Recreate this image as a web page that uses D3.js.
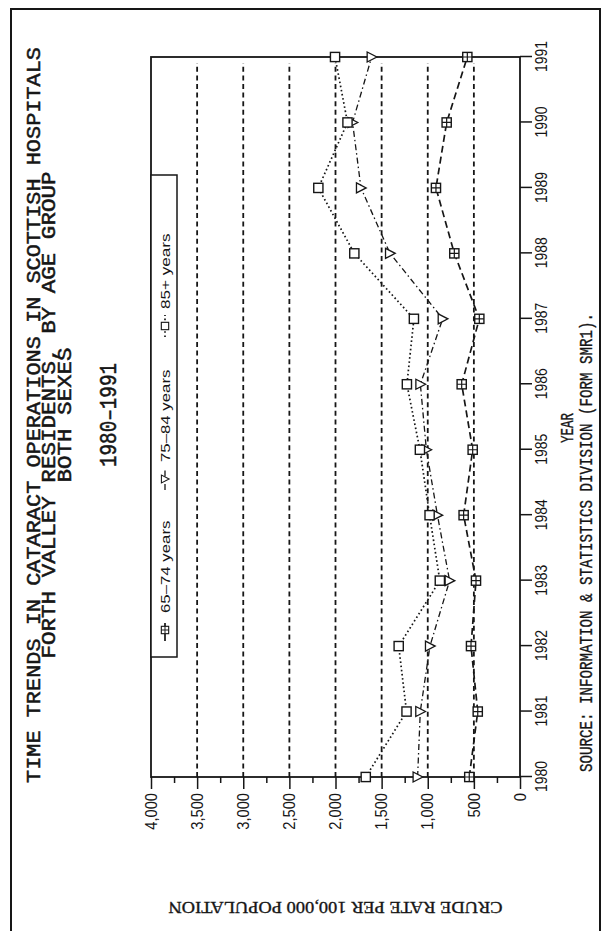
<!DOCTYPE html>
<html>
<head>
<meta charset="utf-8">
<script src="https://cdn.jsdelivr.net/npm/d3@7"></script>
<style>
  body { margin: 0; background: #fff; }
  svg { display: block; }
</style>
</head>
<body>
<svg id="chart" width="613" height="931"></svg>
<script>
// Crude cataract operation rates per 100,000, Forth Valley residents
const years = [1980, 1981, 1982, 1983, 1984, 1985, 1986, 1987, 1988, 1989, 1990, 1991];
const age65to74 = [550, 458, 531, 477, 611, 513, 632, 441, 712, 911, 795, 571];
const age75to84 = [1110, 1081, 976, 763, 895, 1015, 1080, 838, 1409, 1724, 1815, 1608];
const age85plus = [1672, 1230, 1315, 869, 980, 1085, 1226, 1150, 1796, 2186, 1870, 2005];
const seriesNames = ["65\u201374 years", "75\u201384 years", "85+ years"];
const valueTicks = [0, 500, 1000, 1500, 2000, 2500, 3000, 3500, 4000];
const minorTicks = [250, 750, 1250, 1750, 2250, 2750, 3250, 3750];
const gridValues = [500, 1000, 1500, 2000, 2500, 3000, 3500];
const titleLines = [
  "TIME TRENDS IN CATARACT OPERATIONS IN SCOTTISH HOSPITALS",
  "FORTH VALLEY RESIDENTS, BY AGE GROUP",
  "BOTH SEXES"
];
const subtitle = "1980\u20131991";
const xTitle = "YEAR";
const yTitle = "CRUDE RATE PER 100,000 POPULATION";
const sourceNote = "SOURCE: INFORMATION & STATISTICS DIVISION (FORM SMR1).";

const ink = "#161616";
const mono = "'Liberation Mono', 'DejaVu Sans Mono', monospace";
const serif = "'Liberation Serif', 'DejaVu Serif', serif";
const sans = "'Liberation Sans', 'DejaVu Sans', sans-serif";

const svg = d3.select("#chart");
svg.append("rect").attr("width", 613).attr("height", 931).attr("fill", "#fff");

// page frame
svg.append("rect")
  .attr("x", 11).attr("y", 9).attr("width", 589).attr("height", 940)
  .attr("fill", "none").attr("stroke", ink).attr("stroke-width", 2);

// the chart is laid out sideways: drawn in its own frame, turned a quarter turn
const W = 720, H = 369;
const g = svg.append("g").attr("transform", "translate(151,777) rotate(-90)");

const x = d3.scaleLinear().domain([1980, 1991]).range([0, W]);
const y = d3.scaleLinear().domain([0, 4000]).range([H, 0]);

// dashed reference lines
g.append("g").selectAll("line").data(gridValues).join("line")
  .attr("x1", 0).attr("x2", W - 6)
  .attr("y1", d => y(d)).attr("y2", d => y(d))
  .attr("stroke", ink).attr("stroke-width", 1.8)
  .attr("stroke-dasharray", "5,3.6");

// axes
const xAxis = d3.axisBottom(x).tickValues(years).tickFormat(d3.format("d"))
  .tickSize(12).tickPadding(3);
const yAxis = d3.axisLeft(y).tickValues(valueTicks).tickFormat(d3.format(","))
  .tickSize(12).tickPadding(4);
const yMinor = d3.axisLeft(y).tickValues(minorTicks).tickFormat("").tickSize(6);

const gx = g.append("g").attr("transform", `translate(0,${H})`).call(xAxis);
const gy = g.append("g").call(yAxis);
g.append("g").call(yMinor).call(s => s.select(".domain").remove());

[gx, gy].forEach(a => a.select(".domain").remove());
g.selectAll(".tick line").attr("stroke", ink).attr("stroke-width", 1.5);

gx.selectAll(".tick text")
  .attr("font-family", sans).attr("font-size", 17).attr("fill", ink)
  .attr("textLength", 31).attr("lengthAdjust", "spacingAndGlyphs");
gy.selectAll(".tick text")
  .attr("font-family", sans).attr("font-size", 16).attr("fill", ink)
  .each(function(d) {
    const s = d3.format(",")(d);
    const n = s.replace(/,/g, "").length, c = s.length - n;
    d3.select(this).attr("textLength", n * 8.2 + c * 4).attr("lengthAdjust", "spacingAndGlyphs");
  });

// plot box
g.append("rect").attr("x", 0).attr("y", 0).attr("width", W).attr("height", H)
  .attr("fill", "none").attr("stroke", ink).attr("stroke-width", 1.8);

// series
const series = [
  { name: seriesNames[0], values: age65to74, dash: "7,4", width: 1.7, marker: "boxplus" },
  { name: seriesNames[1], values: age75to84, dash: "6,3,1.5,3", width: 1.3, marker: "triangle" },
  { name: seriesNames[2], values: age85plus, dash: "1.6,2.6", width: 1.7, marker: "square" }
];

const line = d3.line().x(d => x(d[0])).y(d => y(d[1]));

function drawMarker(sel, type) {
  if (type === "triangle") {
    sel.append("path").attr("d", "M-5,-4.5L5,-4.5L0,5.2Z")
      .attr("fill", "#fff").attr("stroke", ink).attr("stroke-width", 1.3);
  } else {
    sel.append("rect").attr("x", -4.6).attr("y", -4.6).attr("width", 9.2).attr("height", 9.2)
      .attr("fill", "#fff").attr("stroke", ink).attr("stroke-width", 1.4);
    if (type === "boxplus") {
      sel.append("path").attr("d", "M-4.6,0H4.6M0,-4.6V4.6")
        .attr("stroke", ink).attr("stroke-width", 1.2);
    }
  }
}

series.forEach(s => {
  const pts = years.map((yr, i) => [yr, s.values[i]]);
  g.append("path").datum(pts).attr("d", line)
    .attr("fill", "none").attr("stroke", ink)
    .attr("stroke-width", s.width).attr("stroke-dasharray", s.dash);
});
series.forEach(s => {
  const pts = years.map((yr, i) => [yr, s.values[i]]);
  g.append("g").selectAll("g").data(pts).join("g")
    .attr("transform", d => `translate(${x(d[0])},${y(d[1])})`)
    .each(function() { drawMarker(d3.select(this), s.marker); });
});

// legend
const legend = g.append("g");
legend.append("rect").attr("x", 120).attr("y", 0).attr("width", 482).attr("height", 26)
  .attr("fill", "#fff").attr("stroke", ink).attr("stroke-width", 1.5);
const legendPos = [147, 298, 451];
series.forEach((s, i) => {
  const cx = legendPos[i];
  const e = legend.append("g");
  e.append("line").attr("x1", cx - 11).attr("x2", cx + 11).attr("y1", 14).attr("y2", 14)
    .attr("stroke", ink).attr("stroke-width", s.width).attr("stroke-dasharray", s.dash);
  const m = e.append("g").attr("transform", `translate(${cx},14) scale(0.8)`);
  drawMarker(m, s.marker);
  e.append("text").attr("x", cx + 17).attr("y", 19)
    .attr("font-family", sans).attr("font-size", 13).attr("fill", ink)
    .attr("textLength", s.name.length * 8.4).attr("lengthAdjust", "spacingAndGlyphs")
    .text(s.name);
});

// titles
const titleY = [-111, -96, -80];
const titleLen = [736, 487, 135];
const heading = g.append("g").attr("fill", ink).attr("stroke", ink).attr("stroke-width", 0.5);
titleLines.forEach((t, i) => {
  heading.append("text").attr("x", 362).attr("y", titleY[i])
    .attr("text-anchor", "middle").attr("font-family", mono).attr("font-size", 21)
    .attr("textLength", titleLen[i]).attr("lengthAdjust", "spacingAndGlyphs")
    .text(t);
});
heading.append("text").attr("x", 362).attr("y", -35)
  .attr("text-anchor", "middle").attr("font-family", mono).attr("font-size", 23)
  .attr("textLength", 104).attr("lengthAdjust", "spacingAndGlyphs")
  .text(subtitle);

// axis titles and source
const notes = g.append("g").attr("fill", ink).attr("stroke", ink).attr("stroke-width", 0.35);
notes.append("text").attr("x", 349).attr("y", 422)
  .attr("text-anchor", "middle").attr("font-family", mono).attr("font-size", 19)
  .attr("textLength", 30).attr("lengthAdjust", "spacingAndGlyphs")
  .text(xTitle);
notes.append("text").attr("transform", `translate(-125,${H / 2}) rotate(-90)`)
  .attr("text-anchor", "middle").attr("font-family", serif).attr("font-size", 17)
  .attr("textLength", 334).attr("lengthAdjust", "spacingAndGlyphs")
  .text(yTitle);
notes.append("text").attr("x", 5).attr("y", 441)
  .attr("font-family", mono).attr("font-size", 19)
  .attr("textLength", 459).attr("lengthAdjust", "spacingAndGlyphs")
  .text(sourceNote);
</script>
</body>
</html>
